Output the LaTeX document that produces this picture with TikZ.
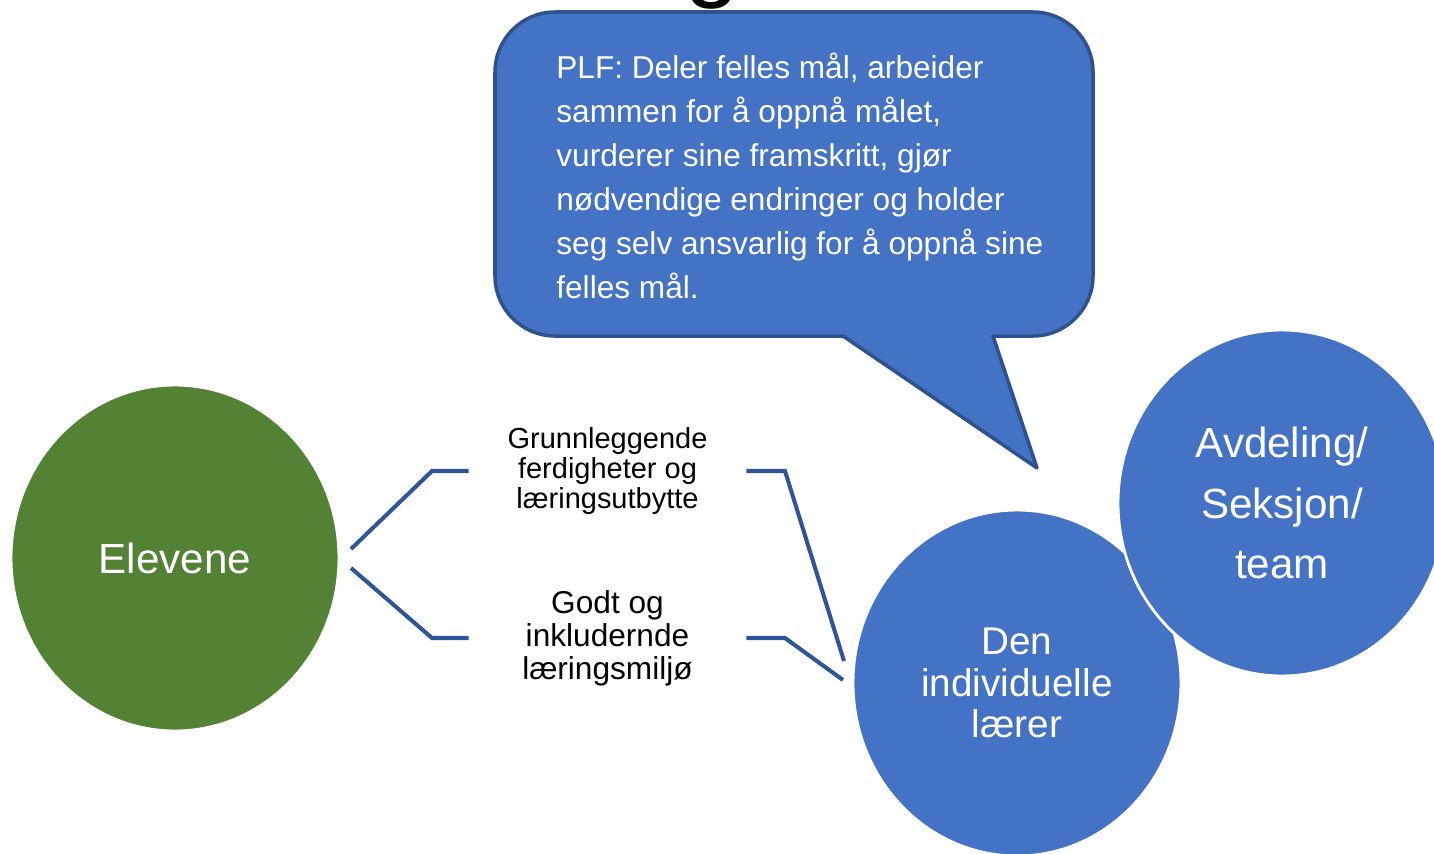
\documentclass[tikz,border=0pt]{standalone}
\usepackage{fontspec}
\setmainfont{Liberation Sans}
\usetikzlibrary{shapes.geometric}
\definecolor{cblue}{HTML}{4472C4}
\definecolor{cborder}{HTML}{2F528F}
\definecolor{cgreen}{HTML}{548235}
\definecolor{cline}{HTML}{2F5597}
\tikzset{
  circ/.style={ellipse, minimum width=6.56cm, minimum height=6.92cm, inner sep=0pt, draw=white, line width=1.6pt, text=white, align=center},
  conn/.style={draw=cline, line width=2.3pt},
  lbl/.style={align=center, inner sep=0pt, text=black, minimum width=5.54cm},
  bubble/.style={fill=cblue, draw=cborder, line width=2pt, line join=round}
}
\begin{document}
\begin{tikzpicture}[x=0.02cm, y=-0.02cm]
\useasboundingbox (0,0) rectangle (1434,853);
\clip (0,0) rectangle (1434,853);
% title fragment
\node[anchor=base, inner sep=0pt, font=\fontsize{57}{60}\selectfont] (title) at (712,-12) {g};
% speech bubble
\path[bubble] (555,12) -- (1033,12) .. controls (1066,12) and (1093,39) .. (1093,72)
  -- (1093,276) .. controls (1093,309) and (1066,336) .. (1033,336)
  -- (993,336) -- (1037,468) -- (843,336)
  -- (555,336) .. controls (522,336) and (495,309) .. (495,276)
  -- (495,72) .. controls (495,39) and (522,12) .. (555,12) -- cycle;
\node[anchor=north west, inner sep=0pt, align=left, text=white, font=\fontsize{18}{25}\selectfont] (plf) at (556,53)
  {PLF: Deler felles mål, arbeider\\sammen for å oppnå målet,\\vurderer sine framskritt, gjør\\nødvendige endringer og holder\\seg selv ansvarlig for å oppnå sine\\felles mål.};
% circles
\node[circ, fill=cgreen, font=\fontsize{24}{29}\selectfont] (elev) at (175,558) {Elevene};
\node[circ, fill=cblue, font=\fontsize{22}{23.8}\selectfont] (den) at (1017,683) {Den\\individuelle\\lærer};
\node[circ, fill=cblue, font=\fontsize{24}{34.6}\selectfont] (avd) at (1282,503) {Avdeling/\\Seksjon/\\team};
% labels
\node[lbl, font=\fontsize{16.5}{17}\selectfont] (g1) at (607.5,471) {Grunnleggende\\ferdigheter og\\læringsutbytte};
\node[lbl, font=\fontsize{18}{18.7}\selectfont] (g2) at (607.5,638) {Godt og\\inkludernde\\læringsmiljø};
% connector ends
\coordinate (a1) at (351,549);
\coordinate (a2) at (351,568);
\coordinate (b1) at (844,661);
\coordinate (b2) at (843,680);
\draw[conn] (a1) -- (432,471) -- (g1.west);
\draw[conn] (a2) -- (432,638) -- (g2.west);
\draw[conn] (g1.east) -- (785,471) -- (b1);
\draw[conn] (g2.east) -- (785,638) -- (b2);
\end{tikzpicture}
\end{document}
